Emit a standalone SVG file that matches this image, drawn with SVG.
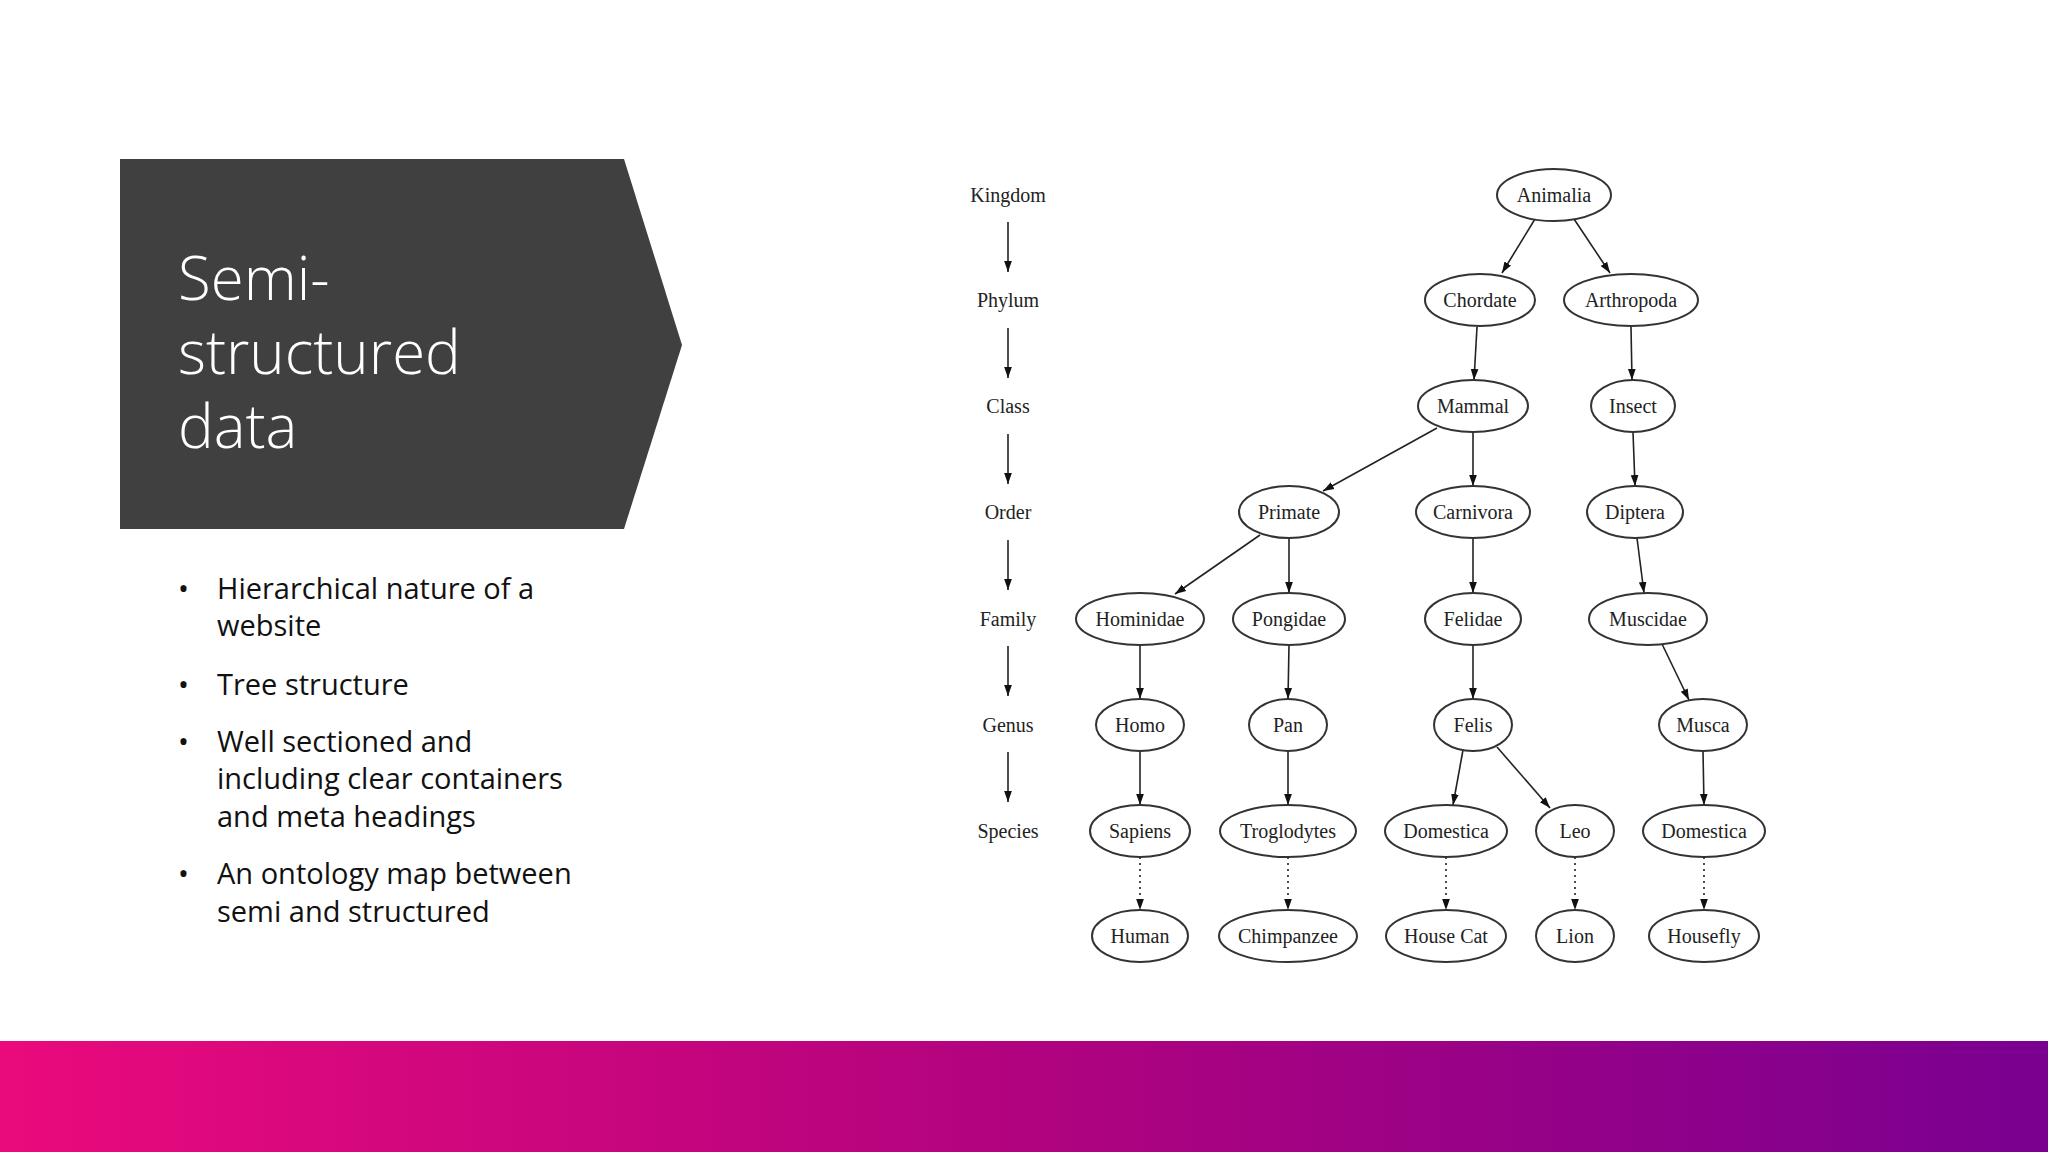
<svg xmlns="http://www.w3.org/2000/svg" width="2048" height="1152" viewBox="0 0 2048 1152">
<style>
.n ellipse{fill:#fff;stroke:#333;stroke-width:2}
.n text,.lv{font-family:"Liberation Serif",serif;font-size:20px;fill:#222;text-anchor:middle;dominant-baseline:central}
.e line{stroke:#222;stroke-width:1.6;marker-end:url(#a)}
.e line.d{stroke-dasharray:2 4}
.t{font-family:"Open Sans",sans-serif;font-weight:300;font-size:60px;fill:#fff}
.b{font-family:"Open Sans",sans-serif;font-size:29px;fill:#111}
</style>
<defs>
<marker id="a" viewBox="0 0 10 10" refX="10" refY="5" markerWidth="11" markerHeight="11" markerUnits="userSpaceOnUse" orient="auto"><path d="M0,1.5 L10,5 L0,8.5z" fill="#111"/></marker>
<linearGradient id="g" x1="0" x2="1"><stop offset="0" stop-color="#EA0A7C"/><stop offset="0.5" stop-color="#B1037F"/><stop offset="1" stop-color="#7A0090"/></linearGradient>
</defs>
<rect width="2048" height="1152" fill="#fff"/>
<path d="M120,159 H624 L682,345 L624,529 H120Z" fill="#404040"/>
<g id="title">
<text class="t" x="178" y="300">Semi-</text>
<text class="t" x="178" y="374">structured</text>
<text class="t" x="178" y="448">data</text>
</g>
<g class="b" id="bullets">
<text x="178" y="599">•</text><text x="217" y="599">Hierarchical nature of a</text><text x="217" y="636">website</text>
<text x="178" y="695">•</text><text x="217" y="695">Tree structure</text>
<text x="178" y="752">•</text><text x="217" y="752">Well sectioned and</text><text x="217" y="789">including clear containers</text><text x="217" y="827">and meta headings</text>
<text x="178" y="884">•</text><text x="217" y="884">An ontology map between</text><text x="217" y="922">semi and structured</text>
</g>
<rect x="0" y="1041" width="2048" height="111" fill="url(#g)"/>
<g id="levels">
<text class="lv" x="1008" y="195">Kingdom</text><text class="lv" x="1008" y="300">Phylum</text><text class="lv" x="1008" y="406">Class</text><text class="lv" x="1008" y="512">Order</text><text class="lv" x="1008" y="619">Family</text><text class="lv" x="1008" y="725">Genus</text><text class="lv" x="1008" y="831">Species</text>
</g>
<g class="e" id="connectors">
<line x1="1008" y1="222" x2="1008" y2="272"/><line x1="1008" y1="328" x2="1008" y2="378"/><line x1="1008" y1="434" x2="1008" y2="484"/><line x1="1008" y1="540" x2="1008" y2="590"/><line x1="1008" y1="646" x2="1008" y2="696"/><line x1="1008" y1="752" x2="1008" y2="802"/>
<line x1="1535" y1="219" x2="1502" y2="273"/><line x1="1574" y1="219" x2="1610" y2="273"/>
<line x1="1477" y1="327" x2="1474" y2="380"/><line x1="1631" y1="327" x2="1632" y2="380"/>
<line x1="1437" y1="428" x2="1323" y2="491"/><line x1="1473" y1="432" x2="1473" y2="486"/><line x1="1633" y1="432" x2="1635" y2="486"/>
<line x1="1260" y1="535" x2="1175" y2="594"/><line x1="1289" y1="538" x2="1289" y2="593"/><line x1="1473" y1="538" x2="1473" y2="593"/><line x1="1637" y1="538" x2="1644" y2="593"/>
<line x1="1140" y1="645" x2="1140" y2="699"/><line x1="1289" y1="645" x2="1288" y2="699"/><line x1="1473" y1="645" x2="1473" y2="699"/><line x1="1662" y1="644" x2="1689" y2="700"/>
<line x1="1140" y1="751" x2="1140" y2="805"/><line x1="1288" y1="751" x2="1288" y2="805"/><line x1="1463" y1="750" x2="1453" y2="805"/><line x1="1497" y1="747" x2="1550" y2="808"/><line x1="1703" y1="751" x2="1704" y2="805"/>
<line class="d" x1="1140" y1="857" x2="1140" y2="910"/><line class="d" x1="1288" y1="857" x2="1288" y2="910"/><line class="d" x1="1446" y1="857" x2="1446" y2="910"/><line class="d" x1="1575" y1="857" x2="1575" y2="910"/><line class="d" x1="1704" y1="857" x2="1704" y2="910"/>
</g>
<g class="n" id="animalia"><ellipse cx="1554" cy="195" rx="57" ry="26"/><text x="1554" y="195">Animalia</text></g>
<g class="n" id="chordate"><ellipse cx="1480" cy="300" rx="55" ry="26"/><text x="1480" y="300">Chordate</text></g>
<g class="n" id="arthropoda"><ellipse cx="1631" cy="300" rx="67" ry="26"/><text x="1631" y="300">Arthropoda</text></g>
<g class="n" id="mammal"><ellipse cx="1473" cy="406" rx="55" ry="26"/><text x="1473" y="406">Mammal</text></g>
<g class="n" id="insect"><ellipse cx="1633" cy="406" rx="42" ry="26"/><text x="1633" y="406">Insect</text></g>
<g class="n" id="primate"><ellipse cx="1289" cy="512" rx="50" ry="26"/><text x="1289" y="512">Primate</text></g>
<g class="n" id="carnivora"><ellipse cx="1473" cy="512" rx="57" ry="26"/><text x="1473" y="512">Carnivora</text></g>
<g class="n" id="diptera"><ellipse cx="1635" cy="512" rx="48" ry="26"/><text x="1635" y="512">Diptera</text></g>
<g class="n" id="hominidae"><ellipse cx="1140" cy="619" rx="64" ry="26"/><text x="1140" y="619">Hominidae</text></g>
<g class="n" id="pongidae"><ellipse cx="1289" cy="619" rx="56" ry="26"/><text x="1289" y="619">Pongidae</text></g>
<g class="n" id="felidae"><ellipse cx="1473" cy="619" rx="48" ry="26"/><text x="1473" y="619">Felidae</text></g>
<g class="n" id="muscidae"><ellipse cx="1648" cy="619" rx="59" ry="26"/><text x="1648" y="619">Muscidae</text></g>
<g class="n" id="homo"><ellipse cx="1140" cy="725" rx="44" ry="26"/><text x="1140" y="725">Homo</text></g>
<g class="n" id="pan"><ellipse cx="1288" cy="725" rx="39" ry="26"/><text x="1288" y="725">Pan</text></g>
<g class="n" id="felis"><ellipse cx="1473" cy="725" rx="39" ry="26"/><text x="1473" y="725">Felis</text></g>
<g class="n" id="musca"><ellipse cx="1703" cy="725" rx="44" ry="26"/><text x="1703" y="725">Musca</text></g>
<g class="n" id="sapiens"><ellipse cx="1140" cy="831" rx="50" ry="26"/><text x="1140" y="831">Sapiens</text></g>
<g class="n" id="troglodytes"><ellipse cx="1288" cy="831" rx="68" ry="26"/><text x="1288" y="831">Troglodytes</text></g>
<g class="n" id="domestica1"><ellipse cx="1446" cy="831" rx="61" ry="26"/><text x="1446" y="831">Domestica</text></g>
<g class="n" id="leo"><ellipse cx="1575" cy="831" rx="39" ry="26"/><text x="1575" y="831">Leo</text></g>
<g class="n" id="domestica2"><ellipse cx="1704" cy="831" rx="61" ry="26"/><text x="1704" y="831">Domestica</text></g>
<g class="n" id="human"><ellipse cx="1140" cy="936" rx="48" ry="26"/><text x="1140" y="936">Human</text></g>
<g class="n" id="chimpanzee"><ellipse cx="1288" cy="936" rx="69" ry="26"/><text x="1288" y="936">Chimpanzee</text></g>
<g class="n" id="housecat"><ellipse cx="1446" cy="936" rx="60" ry="26"/><text x="1446" y="936">House Cat</text></g>
<g class="n" id="lion"><ellipse cx="1575" cy="936" rx="39" ry="26"/><text x="1575" y="936">Lion</text></g>
<g class="n" id="housefly"><ellipse cx="1704" cy="936" rx="55" ry="26"/><text x="1704" y="936">Housefly</text></g>
</svg>
